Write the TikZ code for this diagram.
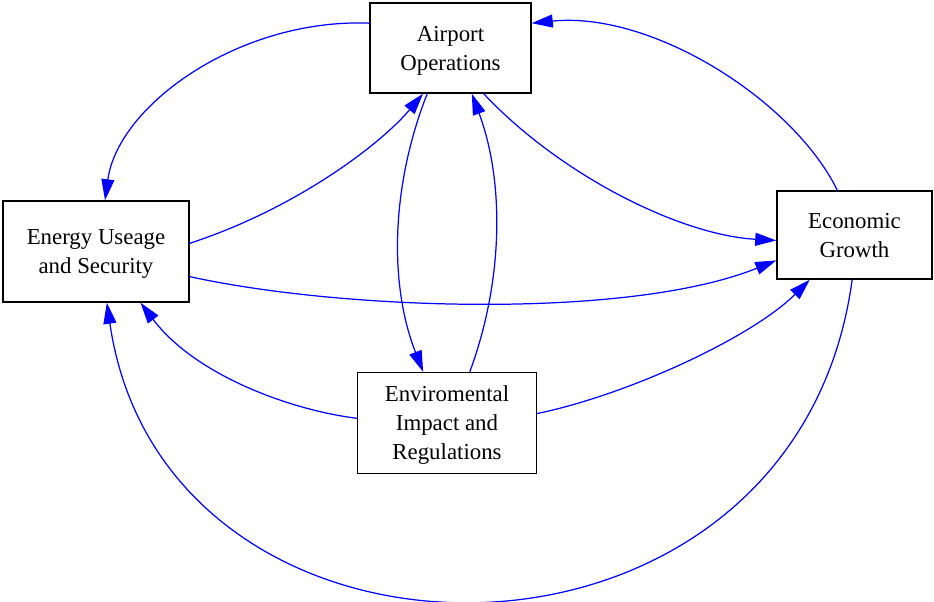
\documentclass[tikz,border=0pt]{standalone}
\usepackage{fontspec}
\setmainfont{Liberation Serif}
\usetikzlibrary{arrows.meta}
\tikzset{every node/.style={rectangle,draw,align=center,inner sep=0pt,line width=0.8pt,text depth=-2pt,font=\fontsize{13pt}{16.5pt}\selectfont}}
\tikzset{every path/.style={>={Triangle[length=12pt,width=7.4pt]}}}
\tikzset{bl/.style={->,draw=blue,line width=0.7pt}}

\begin{document}
\begin{tikzpicture}[x=0.02cm,y=-0.02cm]
\useasboundingbox (0,0) rectangle (934,602);
\node[minimum width=3.22cm,minimum height=1.8cm](air) at (450.5,48) {Airport\\Operations};
\node[minimum width=3.72cm,minimum height=2.02cm](en) at (96,251.5) {Energy Useage\\and Security};
\node[minimum width=3.1cm,minimum height=1.76cm](econ) at (854.5,235) {Economic\\Growth};
\node[minimum width=3.58cm,minimum height=2.02cm](env) at (447,423) {Enviromental\\Impact and\\Regulations};

\draw[bl] (air.163) .. controls (240,18) and (118,105) .. (en.80);
\draw[bl] (en.5) .. controls (295,209) and (380,145) .. (air.239);
\draw[bl] (air.306) .. controls (560,175) and (680,235) .. (econ.184);
\draw[bl] (econ.111) .. controls (793,100) and (652,11) .. (air.17);
\draw[bl] (air.243) .. controls (392,183) and (388,282) .. (env.115);
\draw[bl] (env.66) .. controls (503,282) and (505,183) .. (air.295.5);
\draw[bl] (en.345) .. controls (341,310) and (628,320) .. (econ.198);
\draw[bl] (env.177) .. controls (290,410) and (195,375) .. (en.311);
\draw[bl] (env.6) .. controls (627,395) and (751,338) .. (econ.225);
\draw[bl] (econ.267) .. controls (795,703) and (165,703) .. (en.282);

    \end{tikzpicture}
\end{document}
